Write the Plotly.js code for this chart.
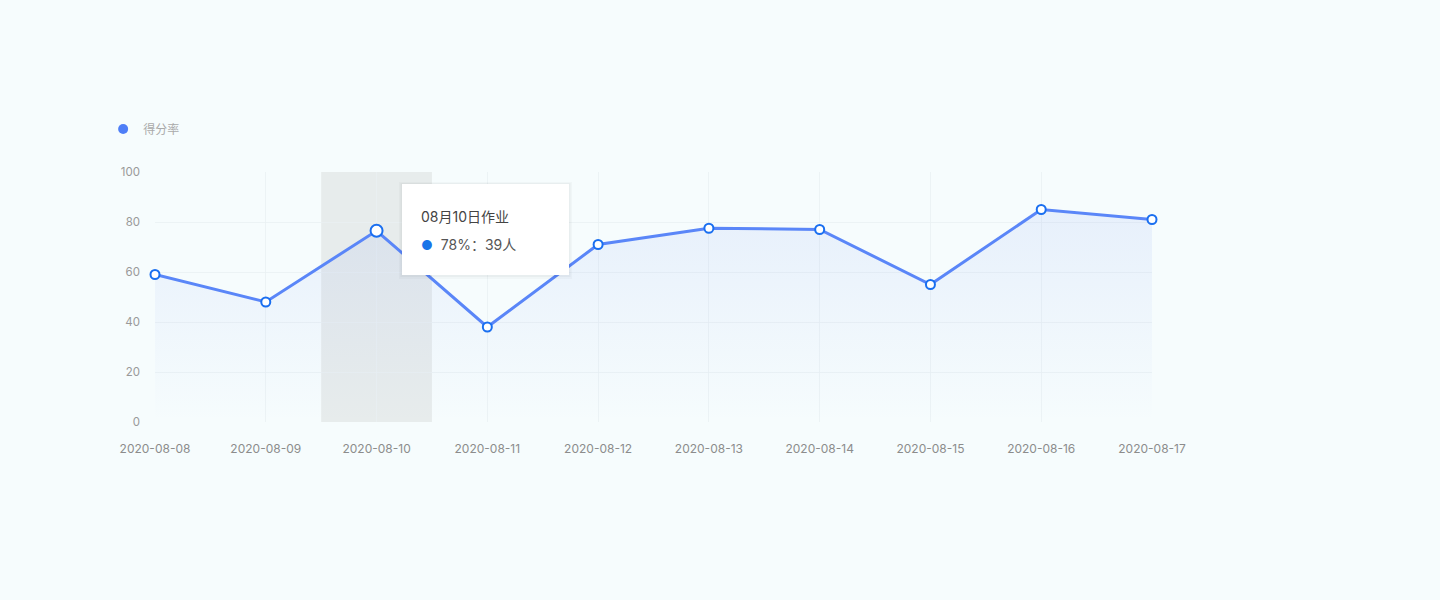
<!DOCTYPE html>
<html>
<head>
<meta charset="utf-8">
<script src="https://cdn.plot.ly/plotly-3.0.1.min.js"></script>
<style>
html,body{margin:0;padding:0;background:#f6fcfd;}
#chart{width:1440px;height:600px;}
</style>
</head>
<body>
<div id="chart"></div>
<script>
const dates = ["2020-08-08","2020-08-09","2020-08-10","2020-08-11","2020-08-12","2020-08-13","2020-08-14","2020-08-15","2020-08-16","2020-08-17"];
const scores = [59, 48, 76.5, 38, 71, 77.5, 77, 55, 85, 81];
const seriesName = "得分率";
const yTicks = [0, 20, 40, 60, 80, 100];
const hoverIndex = 2;
const tooltipTitle = "08月10日作业";
const tooltipPct = 78;
const tooltipCount = 39;

const FONT = 'Inter, "Noto Sans CJK SC", sans-serif';
const lineColor = '#5a86f8';
const markerLine = '#1a6ff0';

const markerSizes = dates.map((d, i) => i === hoverIndex ? 12 : 9);

const traces = [
  {
    x: dates, y: scores, type: 'scatter', mode: 'lines',
    name: seriesName, showlegend: false, cliponaxis: false,
    line: {color: lineColor, width: 3},
    fill: 'tozeroy',
    fillgradient: {type: 'vertical', colorscale: [[0, 'rgba(120,150,240,0)'], [1, 'rgba(120,150,240,0.12)']]},
    hoverinfo: 'skip'
  },
  {
    x: dates, y: scores, type: 'scatter', mode: 'markers',
    name: seriesName, showlegend: false, cliponaxis: false,
    marker: {color: '#ffffff', size: markerSizes, opacity: 1, line: {color: markerLine, width: 2}},
    hoverinfo: 'skip'
  },
  {
    x: [null], y: [null], type: 'scatter', mode: 'markers', name: seriesName,
    marker: {color: '#4e7ef7', size: 10}, showlegend: true, hoverinfo: 'skip'
  }
];

const layout = {
  width: 1440, height: 600,
  margin: {l: 155, r: 288, t: 172, b: 178},
  paper_bgcolor: '#f6fcfd', plot_bgcolor: 'rgba(0,0,0,0)',
  font: {family: FONT, color: '#999999', size: 12},
  showlegend: true,
  legend: {orientation: 'h', x: -0.052, y: 1.172, xanchor: 'left', yanchor: 'middle',
           font: {size: 12, color: '#aaaaaa', family: FONT}, bgcolor: 'rgba(0,0,0,0)', itemwidth: 30},
  xaxis: {
    type: 'category', range: [0, dates.length - 1],
    showgrid: true, gridcolor: 'rgba(234,240,243,0.8)', gridwidth: 1,
    zeroline: false, showline: false, ticks: '',
    tickfont: {size: 12, color: '#8c8c8c', family: FONT},
    ticklabelstandoff: 18, fixedrange: true
  },
  yaxis: {
    range: [0, 100], tickvals: yTicks,
    showgrid: true, gridcolor: 'rgba(234,240,243,0.8)', gridwidth: 1,
    zeroline: false, showline: false, ticks: '',
    tickfont: {size: 11.5, color: '#999999', family: FONT},
    ticklabelstandoff: 14, fixedrange: true
  },
  shapes: [
    {type: 'rect', xref: 'x', yref: 'paper', x0: hoverIndex - 0.5, x1: hoverIndex + 0.5, y0: 0, y1: 1,
     fillcolor: '#e7ecec', line: {width: 0}, layer: 'below'},
    {type: 'rect', xref: 'paper', yref: 'paper', x0: (399-155)/997, x1: (572-155)/997, y0: (422-279)/250, y1: (422-182)/250,
     fillcolor: 'rgba(0,0,0,0.025)', line: {width: 0}, layer: 'above'},
    {type: 'rect', xref: 'paper', yref: 'paper', x0: (400.5-155)/997, x1: (570.5-155)/997, y0: (422-277)/250, y1: (422-183)/250,
     fillcolor: 'rgba(0,0,0,0.03)', line: {width: 0}, layer: 'above'},
    {type: 'rect', xref: 'paper', yref: 'paper', x0: (402-155)/997, x1: (569-155)/997, y0: (422-275)/250, y1: (422-184)/250,
     fillcolor: '#ffffff', line: {width: 0}, layer: 'above'}
  ],
  annotations: [
    {xref: 'paper', yref: 'paper', x: (419-155)/997, y: (422-216)/250, xanchor: 'left', yanchor: 'middle',
     text: tooltipTitle, showarrow: false, font: {size: 14, color: '#444444', family: FONT}},
    {xref: 'paper', yref: 'paper', x: (419-155)/997, y: (422-244)/250, xanchor: 'left', yanchor: 'middle',
     text: '<span style="color:#1a73e8;font-size:13px">●</span>  ' + tooltipPct + '%：' + tooltipCount + '人',
     showarrow: false, font: {size: 14, color: '#555555', family: FONT}}
  ]
};

Plotly.newPlot('chart', traces, layout, {displayModeBar: false, staticPlot: true});
</script>
</body>
</html>
